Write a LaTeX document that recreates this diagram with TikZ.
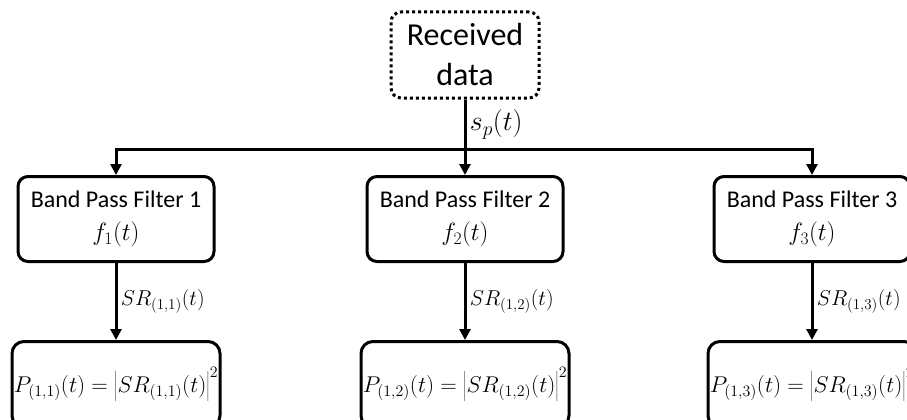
\RequirePackage{fix-cm}
\documentclass[tikz,border=0pt]{standalone}
\usepackage{fontspec}
\setmainfont{Carlito}
\usetikzlibrary{positioning,arrows.meta}
\newcommand{\fsig}[1]{{\fontsize{25}{28}\selectfont$f_{#1}(t)$}}
\tikzset{
  src/.style={rectangle, rounded corners=10pt, minimum width=148pt, minimum height=86pt, align=center, draw=black, dash pattern=on 3pt off 3pt, font=\fontsize{32}{40}\selectfont},
  bpf/.style={rectangle, rounded corners=10pt, minimum width=196pt, minimum height=85pt, align=center, draw=black, font=\fontsize{24}{30}\selectfont},
  pw/.style={rectangle, rounded corners=12pt, minimum width=208pt, minimum height=86pt, inner xsep=0pt, text centered, draw=black, font=\fontsize{22.8}{26}\selectfont},
  lbl/.style={font=\fontsize{21.5}{24}\selectfont},
  node distance=77pt
}

\begin{document}
\begin{tikzpicture}[x=1pt, y=-1pt, line width=3pt, >={Triangle[length=11pt,width=11pt]}]
	\path[use as bounding box, clip] (0,0) rectangle (907,420);
	\node[src] (rcv) at (465,55) {Received\\data};
	\node[bpf] (bpf1) at (116,219) {Band Pass Filter 1\\[3pt]\fsig{1}};
	\node[bpf] (bpf2) at (465,219) {Band Pass Filter 2\\[3pt]\fsig{2}};
	\node[bpf] (bpf3) at (812,219) {Band Pass Filter 3\\[3pt]\fsig{3}};

	\node[pw, below=of bpf1] (pw1) {$P_{(1,1)}(t)=\left|SR_{(1,1)}(t)\right|^2$};
	\node[pw, below=of bpf2] (pw2) {$P_{(1,2)}(t)=\left|SR_{(1,2)}(t)\right|^2$};
	\node[pw, below=of bpf3] (pw3) {$P_{(1,3)}(t)=\left|SR_{(1,3)}(t)\right|^2$};
	%
	\path (rcv.south) ++(0,50) coordinate (split);
	\draw (rcv) -- node[right, font=\fontsize{28}{30}\selectfont] {$s_p(t)$} (split);
	\draw[->] (split) -| (bpf1);
	\draw[->] (split) -- (bpf2);
	\draw[->] (split) -| (bpf3);

	\draw[->] (bpf1) -- node[right, lbl] {$SR_{(1,1)}(t)$} (pw1);
	\draw[->] (bpf2) -- node[right, lbl] {$SR_{(1,2)}(t)$} (pw2);
	\draw[->] (bpf3) -- node[right, lbl] {$SR_{(1,3)}(t)$} (pw3);
\end{tikzpicture}
\end{document}
